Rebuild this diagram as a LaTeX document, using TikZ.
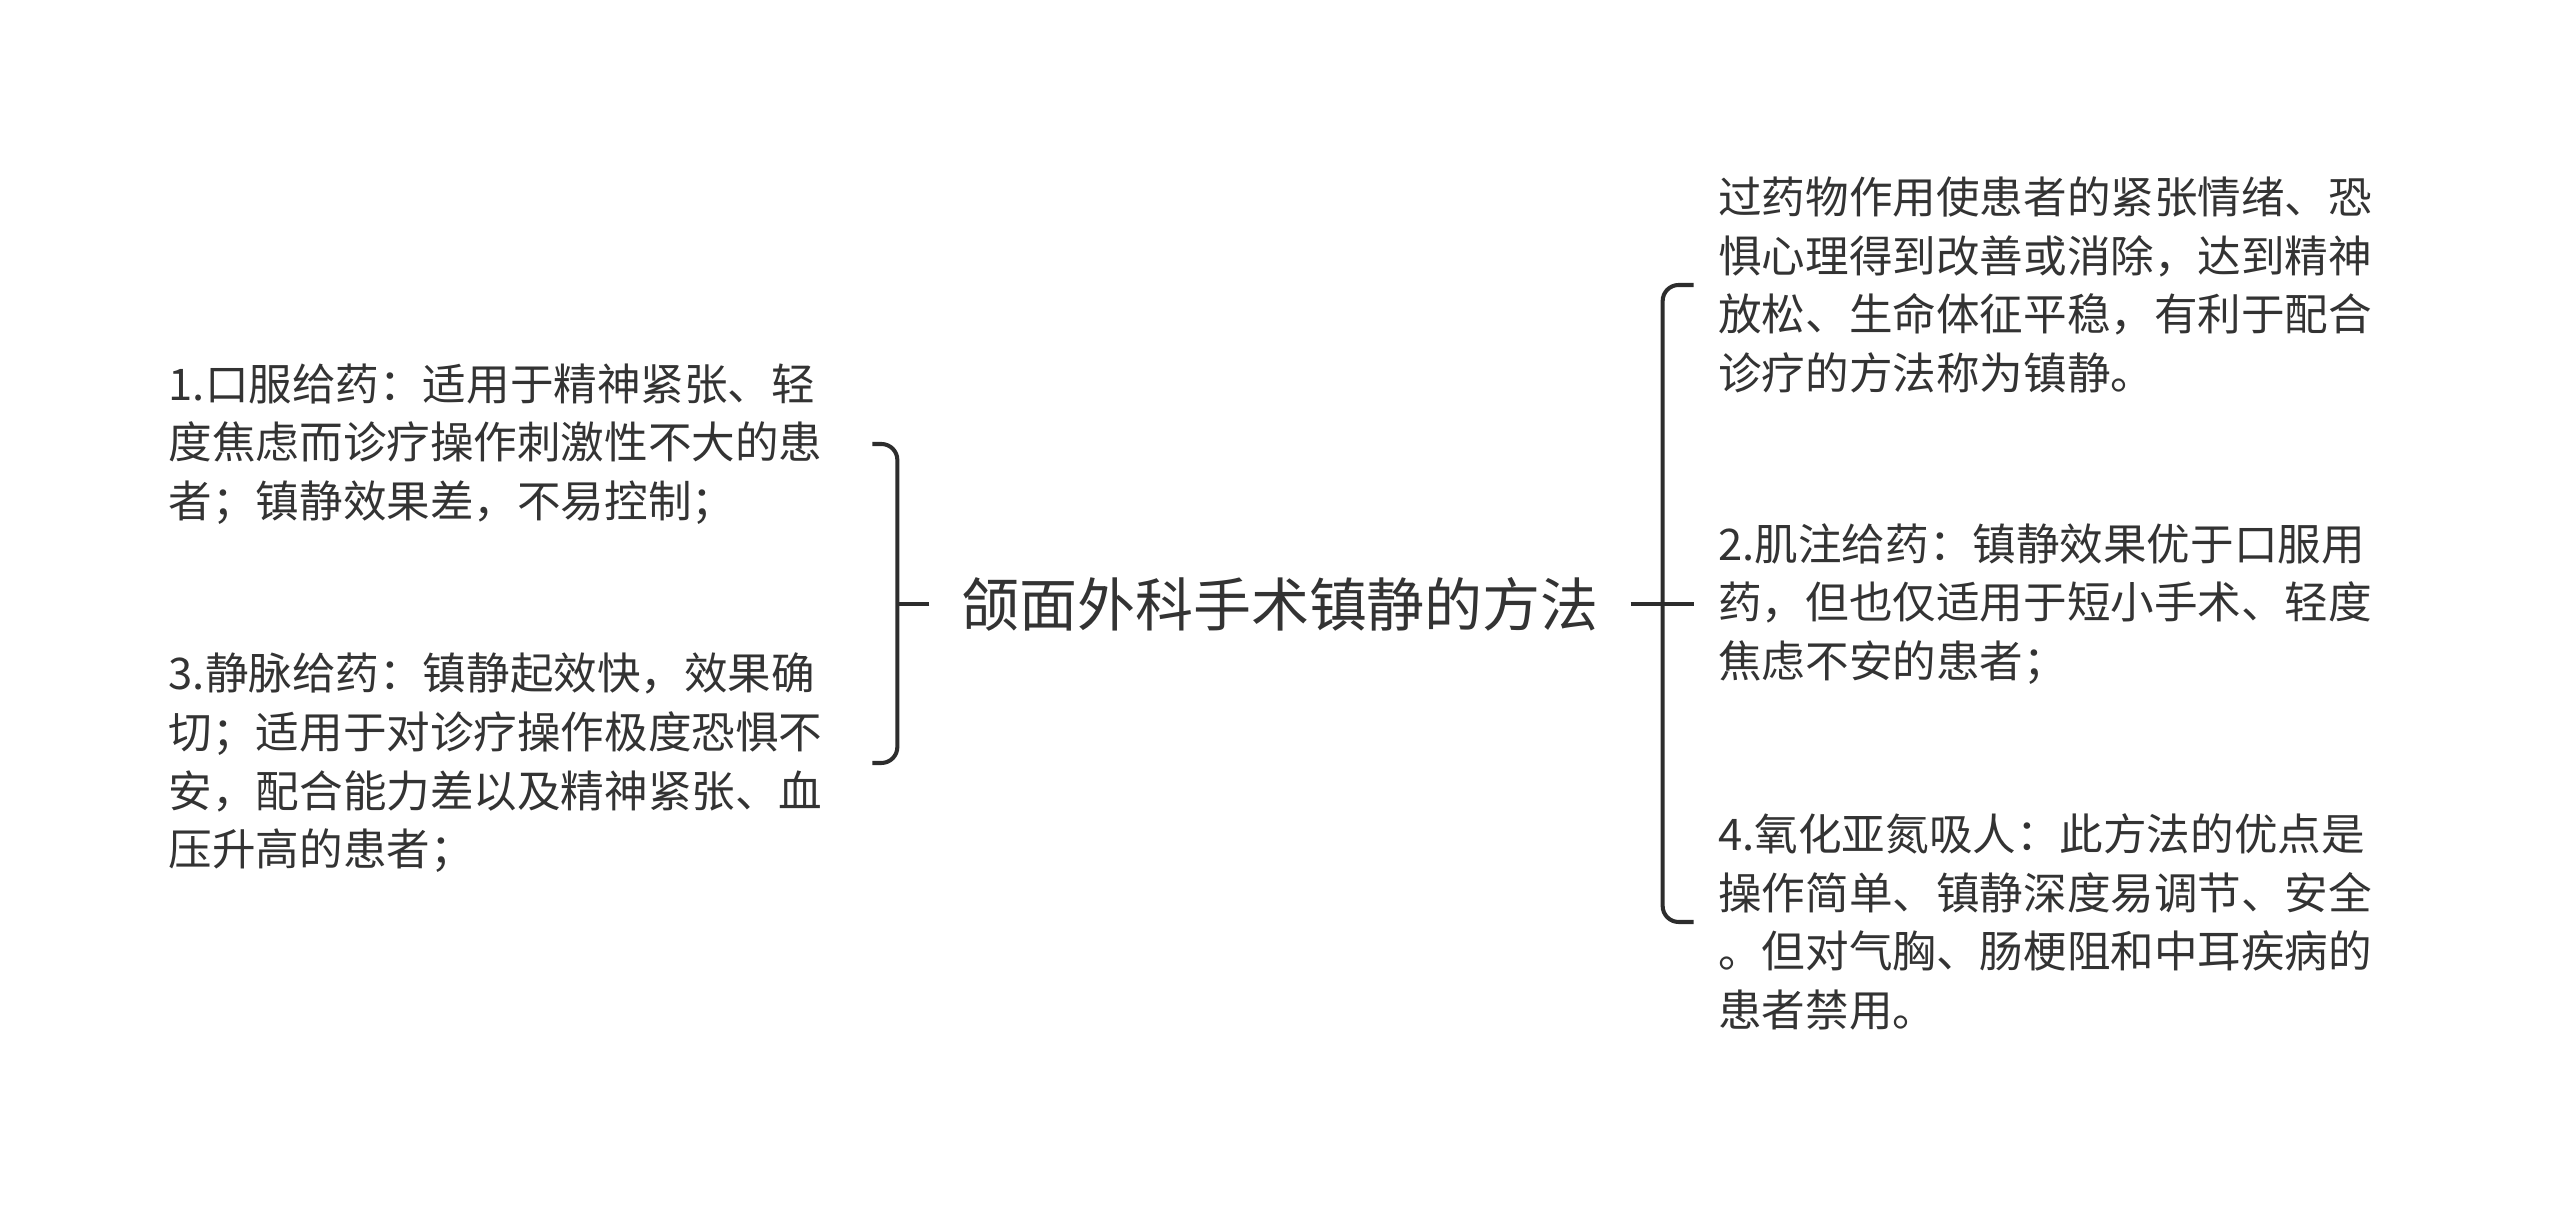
\documentclass[tikz,border=0pt]{standalone}
\usepackage{fontspec}
\setmainfont{Noto Sans CJK SC}
\usepackage{tikz}
\usetikzlibrary{positioning,calc}
\definecolor{inkGray}{RGB}{51,51,51}
\definecolor{lineGray}{RGB}{45,45,45}

\begin{document}
\begin{tikzpicture}[
  root/.style={text=inkGray,inner xsep=0.31cm,inner ysep=0pt,font=\fontsize{16.5}{20}\selectfont},
  leaf/.style={text=inkGray,inner sep=0pt,text width=6.55cm,align=left,font=\fontsize{12.4}{16.7}\selectfont},
  branch/.style={draw=lineGray,line width=1.15pt,rounded corners=1.6mm}]
\useasboundingbox (0,0) rectangle (25.6,12.07);
% --- root ---
\node[root] (root) at (12.80,6.03) {颌面外科手术镇静的方法};
% --- left side ---
\node[leaf,anchor=west] (l1) at (1.68,7.63) {1.口服给药：适用于精神紧张、轻\\度焦虑而诊疗操作刺激性不大的患\\者；镇静效果差，不易控制；};
\node[leaf,anchor=west] (l3) at (1.68,4.44) {3.静脉给药：镇静起效快，效果确\\切；适用于对诊疗操作极度恐惧不\\安，配合能力差以及精神紧张、血\\压升高的患者；};
% --- right side ---
\node[leaf,right=0.87cm of root] (r2) {2.肌注给药：镇静效果优于口服用\\药，但也仅适用于短小手术、轻度\\焦虑不安的患者；};
\node[leaf,anchor=west] (r1) at (r2.west |- 0,9.22) {过药物作用使患者的紧张情绪、恐\\惧心理得到改善或消除，达到精神\\放松、生命体征平稳，有利于配合\\诊疗的方法称为镇静。};
\node[leaf,anchor=west] (r3) at (r2.west |- 0,2.85) {4.氧化亚氮吸人：此方法的优点是\\操作简单、镇静深度易调节、安全\\。但对气胸、肠梗阻和中耳疾病的\\患者禁用。};
% --- brackets ---
\coordinate (lj) at ($(root.west)+(-0.32,0)$);
\coordinate (rj) at ($(root.east)+(0.32,0)$);
\draw[branch] (root.west) -- (lj);
\draw[branch] ([xshift=4.8mm]l1.east) -| (lj) |- ([xshift=4.8mm]l3.east);
\draw[branch] (root.east) -- ([xshift=-2.4mm]r2.west);
\draw[branch] ([xshift=-2.4mm]r1.west) -| (rj) |- ([xshift=-2.4mm]r3.west);
\end{tikzpicture}
\end{document}
